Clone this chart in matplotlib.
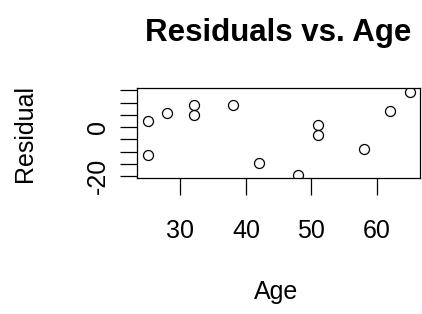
import numpy as np
import matplotlib.pyplot as plt

# residuals against age
age = [25, 25, 28, 32, 32, 38, 42, 48, 51, 51, 58, 62, 65]
residual = [2.4, -11.5, 5.8, 9.1, 4.8, 9.1, -14.7, -19.5, 1.0, -3.3, -9.0, 6.4, 14.5]

x_ticks = [30, 40, 50, 60]
y_ticks = [-20, -15, -10, -5, 0, 5, 10, 15]
y_tick_labels = ['-20', '', '', '', '0', '', '', '']

plt.rcParams['font.family'] = ['Liberation Sans', 'DejaVu Sans']

W, H = 422, 314
fig = plt.figure(figsize=(W / 100, H / 100), dpi=100)
ax = fig.add_axes([137.3 / W, 1 - 178.3 / H, (420 - 137.3) / W, 90 / H])

ax.plot(age, residual, linestyle='none', marker='o', markersize=7.2,
        markerfacecolor='none', markeredgecolor='black', markeredgewidth=0.9)

# R style 4% padding of the data range
def padded(v):
  lo, hi = min(v), max(v)
  d = (hi - lo) * 0.04
  return lo - d, hi + d

ax.set_xlim(*padded(age))
ax.set_ylim(*padded(residual))

ax.set_xticks(x_ticks)
ax.set_yticks(y_ticks)
ax.set_yticklabels(y_tick_labels, rotation=90, va='center')

ax.tick_params(axis='both', length=12, width=0.9, colors='black', labelsize=18)
ax.tick_params(axis='x', pad=17)
ax.tick_params(axis='y', pad=8)

for s in ax.spines.values():
  s.set_linewidth(0.9)
  s.set_color('black')

fig.text(278 / W, 1 - 33 / H, 'Residuals vs. Age', ha='center', va='center',
         fontsize=22.5, fontweight='bold')
fig.text(276 / W, 1 - 292 / H, 'Age', ha='center', va='center', fontsize=18)
fig.text(25 / W, 1 - 133 / H, 'Residual', ha='center', va='center',
         fontsize=18, rotation=90)

fig.savefig('out.png', dpi=100)
